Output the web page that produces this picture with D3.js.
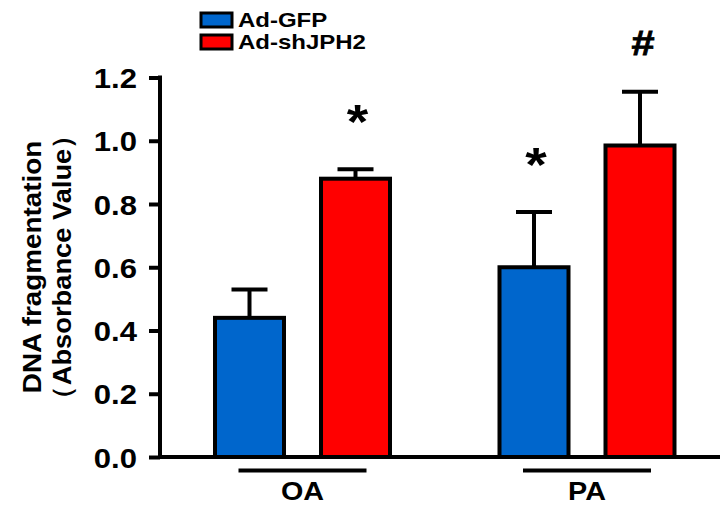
<!DOCTYPE html>
<html><head><meta charset="utf-8">
<script src="https://cdn.jsdelivr.net/npm/d3@7"></script>
<style>body{margin:0;background:#fff}svg{display:block}text{font-family:"Liberation Sans",Arial,sans-serif;font-weight:bold;fill:#000}</style>
</head><body>
<script>
const groups = ["OA", "PA"];
const series = ["Ad-GFP", "Ad-shJPH2"];
const colors = ["#0066cc", "#ff0000"];
const means = [[0.44, 0.88], [0.60, 0.985]];
const errors = [[0.09, 0.03], [0.175, 0.17]];
const marks = [["", "*"], ["*", "#"]];
const yTicks = [0, 0.2, 0.4, 0.6, 0.8, 1.0, 1.2];

const W = 720, H = 506, SX = 1.15;
const svg = d3.select("body").append("svg").attr("width", W).attr("height", H);

const y = d3.scaleLinear().domain([0, 1.2]).range([457, 77.5]);
const x0 = d3.scalePoint().domain(groups).range([302.5, 587]);
const x1 = d3.scalePoint().domain(series).range([-53, 53]);
const bw = 69;

function stretchText(sel, x, yy, k) {
  sel.attr("transform", `translate(${x},${yy}) scale(${k || SX},1)`);
}

// y axis
const yAxis = d3.axisLeft(y).tickValues(yTicks).tickFormat(d3.format(".1f")).tickSize(11).tickPadding(0);
const ag = svg.append("g").attr("transform", "translate(160,0)").call(yAxis);
ag.select(".domain").remove();
ag.selectAll(".tick line").attr("stroke", "#000").attr("stroke-width", 4);
ag.selectAll(".tick text").each(function(d){
  d3.select(this).attr("x", null).attr("dy", null).attr("text-anchor","end")
    .attr("font-size", 27).attr("font-family", null)
    .attr("transform", `translate(-23,10) scale(${SX},1)`);
});
svg.append("line").attr("x1",160).attr("x2",160).attr("y1",y(1.2)-2).attr("y2",y(0)+2).attr("stroke","#000").attr("stroke-width",4);

// bars
groups.forEach((g, gi) => {
  series.forEach((s, si) => {
    const cx = x0(g) + x1(s);
    const v = means[gi][si], e = errors[gi][si];
    svg.append("line").attr("x1", cx).attr("x2", cx).attr("y1", y(v)).attr("y2", y(v + e)).attr("stroke","#000").attr("stroke-width",4);
    svg.append("line").attr("x1", cx - 18).attr("x2", cx + 18).attr("y1", y(v + e)).attr("y2", y(v + e)).attr("stroke","#000").attr("stroke-width",4);
    svg.append("rect").attr("x", cx - bw/2).attr("y", y(v)).attr("width", bw).attr("height", y(0) - y(v))
      .attr("fill", colors[si]).attr("stroke","#000").attr("stroke-width",4);
    const m = marks[gi][si];
    if (m === "*") {
      svg.append("text").text("*").attr("text-anchor","middle").attr("font-size", 48)
        .call(stretchText, cx + 2, y(v + e) - 31);
    } else if (m === "#") {
      svg.append("text").text("#").attr("text-anchor","middle").attr("font-size", 36).attr("stroke","#000").attr("stroke-width",0.8)
        .call(stretchText, cx + 3, y(v + e) - 37);
    }
  });
});

// baseline
svg.append("line").attr("x1",158).attr("x2",W).attr("y1",y(0)).attr("y2",y(0)).attr("stroke","#000").attr("stroke-width",4);

// group lines and labels
groups.forEach(g => {
  svg.append("line").attr("x1", x0(g) - 64).attr("x2", x0(g) + 64).attr("y1", 470.5).attr("y2", 470.5).attr("stroke","#000").attr("stroke-width",4);
  svg.append("text").text(g).attr("text-anchor","middle").attr("font-size", 25).call(stretchText, x0(g), 500);
});

// y title
const tt = svg.append("g").attr("transform", "translate(0,267) rotate(-90)");
tt.append("text").text("DNA fragmentation").attr("text-anchor","middle").attr("font-size", 26)
  .attr("transform", `translate(0,41) scale(1.07,1)`);
tt.append("text").text("（Absorbance Value）").attr("text-anchor","middle").attr("font-size", 26)
  .attr("transform", `translate(0,71) scale(1.05,1)`);

// legend
series.forEach((s, i) => {
  const ly = 13 + i * 22;
  svg.append("rect").attr("x", 201).attr("y", ly).attr("width", 31).attr("height", 14)
    .attr("fill", colors[i]).attr("stroke","#000").attr("stroke-width",3);
  svg.append("text").text(s).attr("font-size", 20).call(stretchText, 238, ly + 14, 1.2);
});
</script>
</body></html>
